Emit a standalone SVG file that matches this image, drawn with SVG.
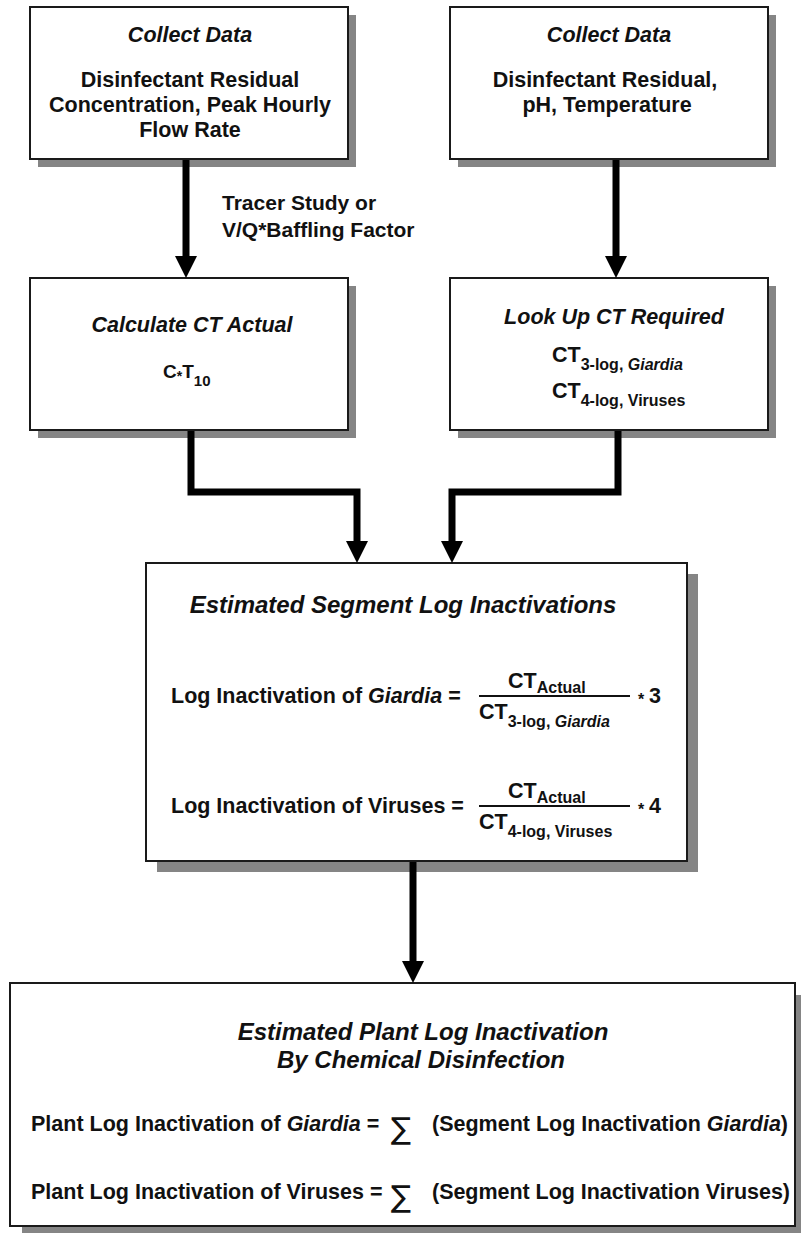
<svg xmlns="http://www.w3.org/2000/svg" width="801" height="1233" viewBox="0 0 801 1233">
<style>
text{font-family:"Liberation Sans",Arial,Helvetica,sans-serif;font-weight:bold;fill:#111;font-size:21.5px}
.i{font-style:italic}
.c{text-anchor:middle}
.h{font-size:24px;font-style:italic}
.s{font-size:16px}
.box{fill:#fff;stroke:#1a1a1a;stroke-width:2}
.sh{fill:#858585}
.conn{fill:none;stroke:#000;stroke-width:7;stroke-linejoin:miter}
.sig{font-family:"DejaVu Sans",sans-serif;font-weight:normal;font-size:30px}
</style>
<defs>
<marker id="ah" viewBox="0 0 22 22" markerWidth="22" markerHeight="22" markerUnits="userSpaceOnUse" refX="0" refY="11" orient="auto">
<path d="M0,0 L22,11 L0,22 z" fill="#000"/>
</marker>
</defs>

<g id="collect-left">
<rect class="sh" x="38" y="15" width="318" height="152"/>
<rect class="box" x="30" y="7" width="318" height="152"/>
<text class="i c" x="190" y="42">Collect Data</text>
<text class="c" x="190" y="87">Disinfectant Residual</text>
<text class="c" x="190" y="112">Concentration, Peak Hourly</text>
<text class="c" x="190" y="137">Flow Rate</text>
</g>

<g id="collect-right">
<rect class="sh" x="458" y="15" width="318" height="152"/>
<rect class="box" x="450" y="7" width="318" height="152"/>
<text class="i c" x="609" y="42">Collect Data</text>
<text class="c" x="605" y="87">Disinfectant Residual,</text>
<text class="c" x="607" y="112">pH, Temperature</text>
</g>

<g id="ct-actual">
<rect class="sh" x="38" y="286" width="318" height="152"/>
<rect class="box" x="30" y="278" width="318" height="152"/>
<text class="i c" x="192" y="332">Calculate CT Actual</text>
<text x="163" y="378" style="font-size:19px">C<tspan style="font-size:14px" dy="3">*</tspan><tspan dy="-3">T</tspan><tspan style="font-size:15px" dy="8">10</tspan></text>
</g>

<g id="ct-required">
<rect class="sh" x="458" y="286" width="318" height="152"/>
<rect class="box" x="450" y="278" width="318" height="152"/>
<text class="i c" x="614" y="324">Look Up CT Required</text>
<text x="552" y="362">CT<tspan class="s" dy="8">3-log, <tspan class="i">Giardia</tspan></tspan></text>
<text x="552" y="398">CT<tspan class="s" dy="8">4-log, Viruses</tspan></text>
</g>

<g id="segment">
<rect class="sh" x="157" y="574" width="541" height="298"/>
<rect class="box" x="146" y="563" width="541" height="298"/>
<text class="h c" x="403" y="613">Estimated Segment Log Inactivations</text>
<text x="171" y="703">Log Inactivation of <tspan class="i">Giardia</tspan> =</text>
<text x="508" y="688">CT<tspan class="s" dy="5">Actual</tspan></text>
<line x1="479" y1="696" x2="630" y2="696" stroke="#111" stroke-width="2"/>
<text x="479" y="719">CT<tspan class="s" dy="8">3-log, <tspan class="i">Giardia</tspan></tspan></text>
<text x="638" y="705" class="s">*</text>
<text x="649" y="703">3</text>
<text x="171" y="813">Log Inactivation of Viruses =</text>
<text x="508" y="798">CT<tspan class="s" dy="5">Actual</tspan></text>
<line x1="479" y1="806" x2="630" y2="806" stroke="#111" stroke-width="2"/>
<text x="479" y="829">CT<tspan class="s" dy="8">4-log, Viruses</tspan></text>
<text x="638" y="815" class="s">*</text>
<text x="649" y="813">4</text>
</g>

<g id="plant">
<rect class="sh" x="22" y="995" width="785" height="243"/>
<rect class="box" x="10" y="983" width="785" height="243"/>
<text class="h c" x="423" y="1040">Estimated Plant Log Inactivation</text>
<text class="h c" x="421" y="1068">By Chemical Disinfection</text>
<text x="31" y="1131">Plant Log Inactivation of <tspan class="i">Giardia</tspan> =</text>
<text class="sig c" x="401" y="1139">∑</text>
<text x="432" y="1131">(Segment Log Inactivation <tspan class="i">Giardia</tspan>)</text>
<text x="31" y="1199">Plant Log Inactivation of Viruses</text>
<text x="370" y="1199">=</text>
<text class="sig c" x="401" y="1207">∑</text>
<text x="432" y="1199" textLength="358">(Segment Log Inactivation Viruses)</text>
</g>

<g id="connectors">
<path class="conn" d="M186,160 V256" marker-end="url(#ah)"/>
<text x="222" y="210" style="font-size:21px">Tracer Study or</text>
<text x="222" y="237" style="font-size:21px">V/Q*Baffling Factor</text>
<path class="conn" d="M616,160 V256" marker-end="url(#ah)"/>
<path class="conn" d="M191,431 V492 H357 V541" marker-end="url(#ah)"/>
<path class="conn" d="M618,431 V492 H452 V541" marker-end="url(#ah)"/>
<path class="conn" d="M413,862 V961" marker-end="url(#ah)"/>
</g>
</svg>
